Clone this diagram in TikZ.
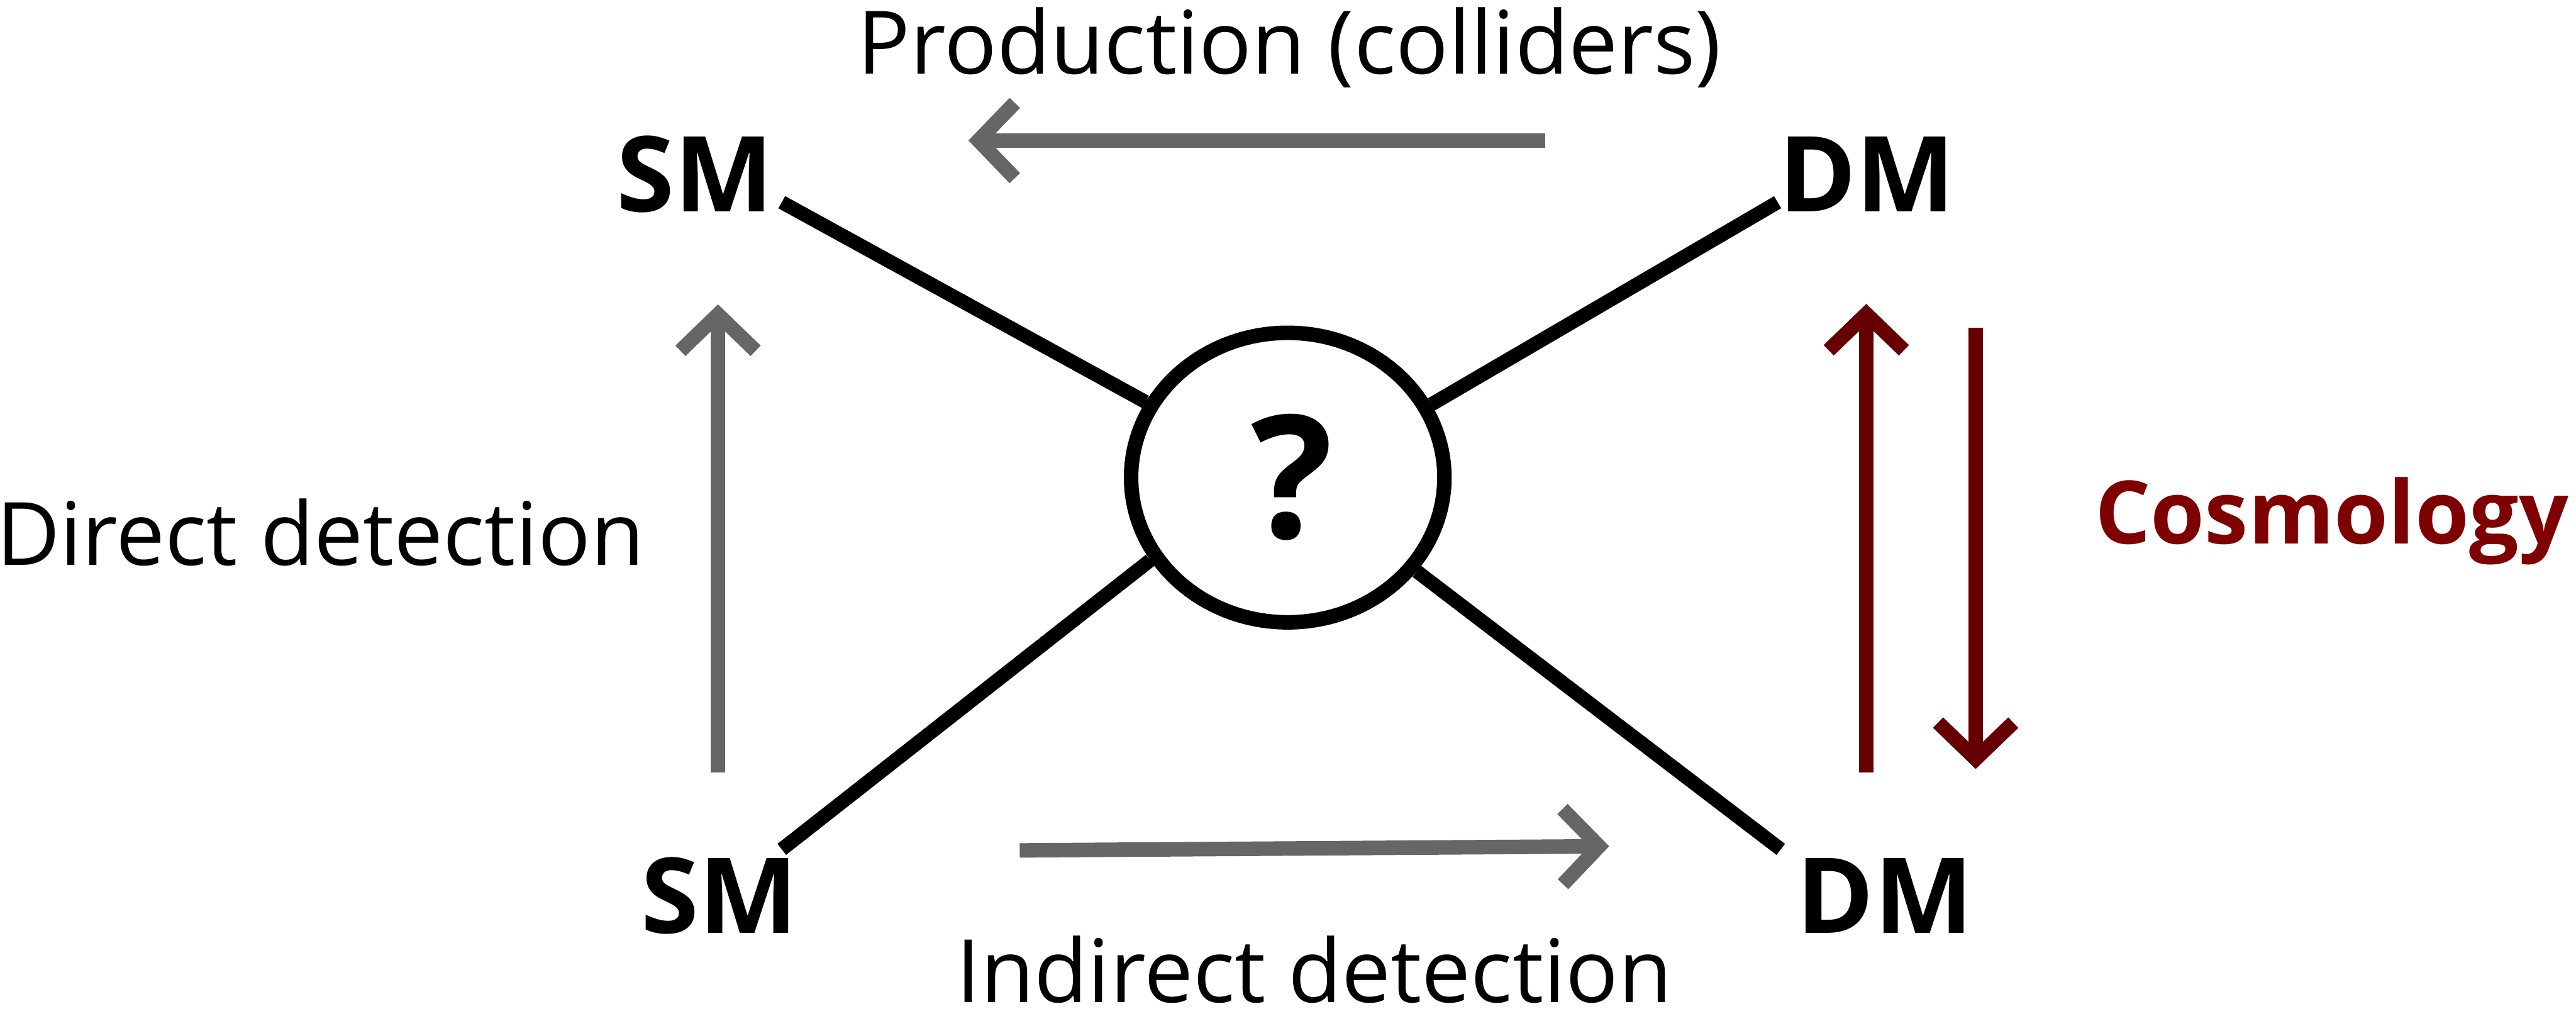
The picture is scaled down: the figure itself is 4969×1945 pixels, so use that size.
\documentclass[tikz,border=0pt]{standalone}
\usepackage{fontspec}
\setmainfont{Open Sans}
\usetikzlibrary{arrows.meta,shapes.geometric}
\definecolor{arrgray}{HTML}{666666}
\definecolor{darkred}{HTML}{660000}
\definecolor{cosmo}{HTML}{7F0000}
\begin{document}
\begin{tikzpicture}[x=0.01cm,y=-0.01cm,
  lbl/.style={font=\fontsize{48}{56}\selectfont, inner sep=0, anchor=base},
  part/.style={font=\bfseries\fontsize{57.5}{68}\selectfont, inner sep=0, anchor=base},
  link/.style={line width=0.27cm, black},
  garrow/.style={line width=0.28cm, arrgray, -{Straight Barb[length=0.7cm,width=1.45cm]}},
  rarrow/.style={line width=0.28cm, darkred, -{Straight Barb[length=0.7cm,width=1.45cm]}},
]
\useasboundingbox (0,0) rectangle (4969,1945);
\node[part] (smt) at (1341,408) {SM};
\node[part] (dmt) at (3601,408) {DM};
\node[part] (smb) at (1388,1800) {SM};
\node[part] (dmb) at (3636,1800) {DM};
\node[draw, ellipse, line width=0.28cm, minimum width=6.04cm, minimum height=5.58cm, inner sep=0] (q) at (2484,921) {};
\node[inner sep=0, font=\bfseries\fontsize{94}{100}\selectfont] (qm) at (2492,920) {?};
% links
\coordinate (a1) at (1508,390);
\coordinate (a2) at (3429,390);
\coordinate (a3) at (1508,1638);
\coordinate (a4) at (3435,1638);
\draw[link] (a1) -- (q.152);
\draw[link] (a2) -- (q.27);
\draw[link] (a3) -- (q.211);
\draw[link] (a4) -- (q.-36);
% arrows
\coordinate (p1) at (2981,271); \coordinate (p2) at (1868,271);
\draw[garrow] (p1) -- (p2);
\coordinate (d1) at (1385,1490); \coordinate (d2) at (1385,587);
\draw[garrow] (d1) -- (d2);
\coordinate (i1) at (1967,1640); \coordinate (i2) at (3104,1632);
\draw[garrow] (i1) -- (i2);
\coordinate (c1) at (3600,1490); \coordinate (c2) at (3600,586);
\draw[rarrow] (c1) -- (c2);
\coordinate (c3) at (3811,632); \coordinate (c4) at (3811,1483);
\draw[rarrow] (c3) -- (c4);
% labels
\node[lbl] (prod) at (2487,143) {Production (colliders)};
\node[lbl] (dd) at (618,1090) {Direct detection};
\node[lbl] (id) at (2535,1933) {Indirect detection};
\node[lbl, font=\bfseries\fontsize{48}{58}\selectfont, text=cosmo] (cos) at (4498,1049) {Cosmology};
\end{tikzpicture}
\end{document}
